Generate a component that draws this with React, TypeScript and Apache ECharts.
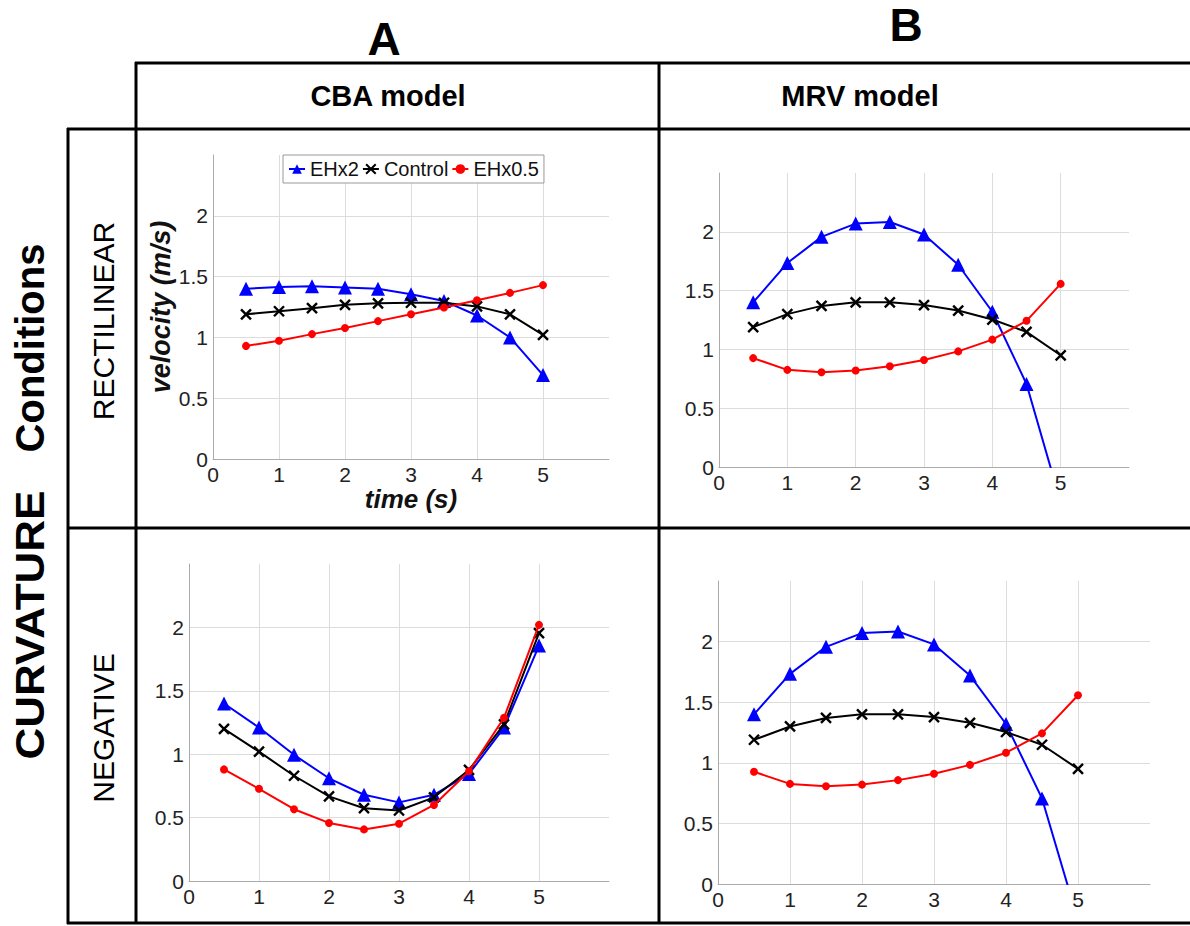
import React, { useEffect, useRef } from "react";
import * as echarts from "echarts";

// ---------- data ----------
const times = [0.5, 1, 1.5, 2, 2.5, 3, 3.5, 4, 4.5, 5];
const seriesNames = ["EHx2", "Control", "EHx0.5"];
const columnTitles = ["CBA model", "MRV model"];
const panelLetters = ["A", "B"];
const rowTitles = ["RECTILINEAR", "NEGATIVE"];
const xTicks = [0, 1, 2, 3, 4, 5];
const yTicks = [0, 0.5, 1, 1.5, 2];

// A: CBA model, rectilinear
const cbaRectEHx2 = [1.40, 1.415, 1.42, 1.41, 1.40, 1.355, 1.30, 1.18, 1.00, 0.69];
const cbaRectControl = [1.19, 1.215, 1.24, 1.268, 1.28, 1.285, 1.285, 1.255, 1.19, 1.02];
const cbaRectEHx05 = [0.93, 0.973, 1.027, 1.077, 1.134, 1.19, 1.246, 1.306, 1.366, 1.43];
// B: MRV model, rectilinear
const mrvRectEHx2 = [1.40, 1.734, 1.957, 2.07, 2.083, 1.977, 1.72, 1.32, 0.706, -0.30];
const mrvRectControl = [1.19, 1.30, 1.37, 1.40, 1.40, 1.377, 1.33, 1.254, 1.149, 0.95];
const mrvRectEHx05 = [0.926, 0.826, 0.806, 0.82, 0.857, 0.91, 0.983, 1.083, 1.243, 1.557];
// A: CBA model, negative curvature
const cbaNegEHx2 = [1.40, 1.21, 0.995, 0.81, 0.68, 0.62, 0.68, 0.844, 1.21, 1.857];
const cbaNegControl = [1.20, 1.02, 0.83, 0.667, 0.574, 0.556, 0.66, 0.876, 1.235, 1.955];
const cbaNegEHx05 = [0.88, 0.727, 0.566, 0.458, 0.407, 0.452, 0.60, 0.865, 1.288, 2.02];
// B: MRV model, negative curvature
const mrvNegEHx2 = [1.40, 1.734, 1.957, 2.07, 2.083, 1.977, 1.72, 1.32, 0.706, -0.30];
const mrvNegControl = [1.19, 1.30, 1.37, 1.40, 1.40, 1.377, 1.33, 1.254, 1.149, 0.95];
const mrvNegEHx05 = [0.926, 0.826, 0.806, 0.82, 0.857, 0.91, 0.983, 1.083, 1.243, 1.557];

const panels = [
  [cbaRectEHx2, cbaRectControl, cbaRectEHx05],
  [mrvRectEHx2, mrvRectControl, mrvRectEHx05],
  [cbaNegEHx2, cbaNegControl, cbaNegEHx05],
  [mrvNegEHx2, mrvNegControl, mrvNegEHx05],
];

// ---------- layout / style ----------
const FONT = "'Liberation Sans', Arial, Helvetica, sans-serif";
const gridRects = [
  { left: 213, top: 155, width: 396, height: 304 },
  { left: 719, top: 173, width: 410, height: 294 },
  { left: 189, top: 564, width: 420, height: 317 },
  { left: 718, top: 581, width: 432, height: 303 },
];
const colors = ["#0000ff", "#000000", "#ff0000"];
const symbols = ["triangle", "path://M0,0L10,10M10,0L0,10", "circle"];
const symbolSizes = [14, 10, 8];

export default function App() {
  const ref = useRef<HTMLDivElement>(null);

  useEffect(() => {
    if (!ref.current) return;
    const chart = echarts.init(ref.current, null, { renderer: "svg" });

    const xAxes = gridRects.map((_, gi) => ({
      type: "value",
      gridIndex: gi,
      min: 0,
      max: 6,
      interval: 1,
      name: gi === 0 ? "time (s)" : "",
      nameLocation: "middle",
      nameGap: 27,
      nameTextStyle: { fontFamily: FONT, fontSize: 26, fontWeight: "bold", fontStyle: "italic", color: "#111" },
      axisLine: { show: true, onZero: false, lineStyle: { color: "#ababab", width: 1 } },
      axisTick: { show: false },
      splitLine: { show: true, showMinLine: false, showMaxLine: false, lineStyle: { color: "#dcdcdc", width: 1 } },
      axisLabel: {
        fontFamily: FONT,
        fontSize: 21,
        color: "#222",
        margin: 5,
        formatter: (v: number) => (xTicks.includes(v) ? String(v) : ""),
      },
    }));

    const yAxes = gridRects.map((_, gi) => ({
      type: "value",
      gridIndex: gi,
      min: 0,
      max: 2.5,
      interval: 0.5,
      name: gi === 0 ? "velocity (m/s)" : "",
      nameLocation: "middle",
      nameRotate: 90,
      nameGap: 34,
      nameTextStyle: { fontFamily: FONT, fontSize: 27, fontWeight: "bold", fontStyle: "italic", color: "#111" },
      axisLine: { show: true, onZero: false, lineStyle: { color: "#ababab", width: 1 } },
      axisTick: { show: false },
      splitLine: { show: true, showMinLine: false, showMaxLine: false, lineStyle: { color: "#dcdcdc", width: 1 } },
      axisLabel: {
        fontFamily: FONT,
        fontSize: 21,
        color: "#222",
        margin: 5,
        formatter: (v: number) => (yTicks.includes(v) ? String(v) : ""),
      },
    }));

    const series: any[] = [];
    panels.forEach((panel, gi) => {
      panel.forEach((vals, si) => {
        series.push({
          type: "line",
          name: seriesNames[si],
          xAxisIndex: gi,
          yAxisIndex: gi,
          data: times.map((t, i) => [t, vals[i]]),
          symbol: symbols[si],
          symbolSize: symbolSizes[si],
          showSymbol: true,
          clip: true,
          lineStyle: { color: colors[si], width: 2 },
          itemStyle:
            si === 1
              ? { color: colors[si], borderColor: colors[si], borderWidth: 2.4 }
              : { color: colors[si], borderWidth: 0 },
          z: 3 + si,
        });
      });
    });

    const lineStyle = { stroke: "#000", lineWidth: 3 };
    const hLine = (y: number, x1: number, x2: number) => ({
      type: "line", shape: { x1, y1: y, x2, y2: y }, style: lineStyle, silent: true,
    });
    const vLine = (x: number, y1: number, y2: number) => ({
      type: "line", shape: { x1: x, y1, x2: x, y2 }, style: lineStyle, silent: true,
    });
    const txt = (text: string, x: number, y: number, size: number, weight: string, rotation = 0, scaleX = 1) => ({
      type: "text",
      x,
      y,
      rotation,
      scaleX,
      style: {
        text,
        fontFamily: FONT,
        fontSize: size,
        fontWeight: weight,
        fill: "#000",
        align: "center",
        verticalAlign: "middle",
      },
      silent: true,
    });

    const graphic = [
      hLine(63, 135, 1190),
      hLine(129, 67, 1190),
      hLine(528, 67, 1190),
      hLine(923, 67, 1190),
      vLine(68, 128, 924),
      vLine(136, 62, 924),
      vLine(659, 62, 924),
      txt(panelLetters[0], 384, 39, 46, "bold"),
      txt(panelLetters[1], 906, 25, 46, "bold"),
      txt(columnTitles[0], 388, 96, 29, "bold"),
      txt(columnTitles[1], 860, 96, 29, "bold"),
      txt(rowTitles[0], 103, 321, 30, "normal", Math.PI / 2),
      txt(rowTitles[1], 103, 728, 30, "normal", Math.PI / 2),
      txt("Conditions", 30, 348, 40, "bold", Math.PI / 2),
      txt("CURVATURE", 30, 625, 40, "bold", Math.PI / 2, 1.1),
    ];

    chart.setOption({
      animation: false,
      backgroundColor: "#fff",
      grid: gridRects.map((r) => ({ ...r, containLabel: false })),
      xAxis: xAxes,
      yAxis: yAxes,
      legend: {
        data: seriesNames,
        left: 283,
        top: 155,
        orient: "horizontal",
        itemWidth: 16,
        itemHeight: 12,
        itemGap: 3,
        padding: [4, 5],
        borderColor: "#999",
        borderWidth: 1,
        backgroundColor: "#fff",
        textStyle: { fontFamily: FONT, fontSize: 20, color: "#111" },
      },
      series,
      graphic,
    });

    return () => chart.dispose();
  }, []);

  return (
    <div
      ref={ref}
      style={{ position: "absolute", left: 0, top: 0, width: 1190, height: 926, background: "#fff" }}
    />
  );
}
